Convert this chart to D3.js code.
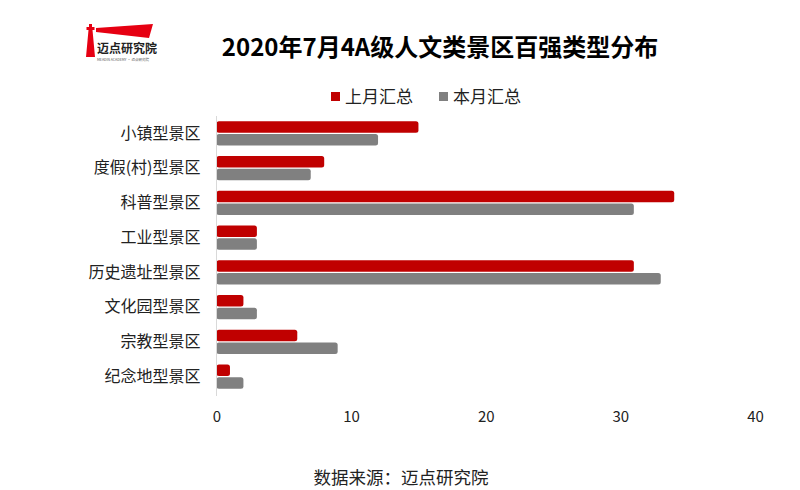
<!DOCTYPE html>
<html><head><meta charset="utf-8">
<script src="https://cdn.jsdelivr.net/npm/d3@7"></script>
<style>body{margin:0;background:#fff}svg{display:block}text{font-family:"Noto Sans CJK SC","Noto Sans",sans-serif}</style>
</head><body>
<script>
const categories = ["小镇型景区","度假(村)型景区","科普型景区","工业型景区","历史遗址型景区","文化园型景区","宗教型景区","纪念地型景区"];
const lastMonth = [15, 8, 34, 3, 31, 2, 6, 1];
const thisMonth = [12, 7, 31, 3, 33, 3, 9, 2];
const seriesNames = ["上月汇总","本月汇总"];
const tickValues = [0, 10, 20, 30, 40];
const colors = ["#C00000", "#808080"];

const W = 800, H = 490;
const svg = d3.select("body").append("svg").attr("width", W).attr("height", H);

const x = d3.scaleLinear().domain([0, 40]).range([216.5, 755]);
const y = d3.scaleBand().domain(categories).range([116, 394]).paddingInner(0.3).paddingOuter(0.15);
const sub = d3.scaleBand().domain([0, 1]).range([0, y.bandwidth()]).paddingInner(0.08);

// title
svg.append("text").attr("x", 440).attr("y", 56).attr("text-anchor", "middle")
  .attr("font-size", 24).attr("font-weight", "bold").attr("fill", "#000")
  .text("2020年7月4A级人文类景区百强类型分布");

// logo
const logo = svg.append("g");
logo.append("path").attr("d", "M86,57 L88.5,30 L86.5,30 L86.5,27 L89,27 L89,24 L92,24 L92,27 L94.5,27 L94.5,30 L92.5,30 L95,57 Z").attr("fill", "#E60012");
logo.append("path").attr("d", "M96,28 L153,24 L149,38 L96,32 Z").attr("fill", "#E60012");
logo.append("text").attr("x", 97).attr("y", 53).attr("font-size", 12).attr("font-weight", "bold").attr("fill", "#222").text("迈点研究院");
logo.append("text").attr("x", 97).attr("y", 61).attr("font-size", 3.5).attr("fill", "#555").text("MEADIN ACADEMY · 迈点研究院");

// legend
const legend = svg.append("g");
const legX = [331, 439];
seriesNames.forEach((n, i) => {
  legend.append("rect").attr("x", legX[i]).attr("y", 92).attr("width", 9).attr("height", 9).attr("fill", colors[i]);
  legend.append("text").attr("x", legX[i] + 14).attr("y", 103).attr("font-size", 17).attr("fill", "#222").text(n);
});

// bars
const data = categories.map((c, i) => ({c, v: [lastMonth[i], thisMonth[i]]}));
const g = svg.append("g");
data.forEach(d => {
  d.v.forEach((v, k) => {
    g.append("rect")
      .attr("x", x(0)).attr("y", y(d.c) + sub(k))
      .attr("width", x(v) - x(0)).attr("height", sub.bandwidth())
      .attr("rx", 2.5).attr("fill", colors[k]);
  });
});

// y axis line
svg.append("line").attr("x1", x(0)).attr("x2", x(0)).attr("y1", 116).attr("y2", 396)
  .attr("stroke", "#d9d9d9").attr("stroke-width", 1);

// category labels
const yAxis = d3.axisLeft(y).tickSize(0).tickPadding(16);
const ya = svg.append("g").attr("transform", `translate(${x(0)},0)`).call(yAxis);
ya.select(".domain").remove();
ya.selectAll("text").attr("font-size", 16).attr("fill", "#222").attr("font-family", '"Noto Sans CJK SC",sans-serif');

// x ticks
const xAxis = d3.axisBottom(x).tickValues(tickValues).tickSize(0).tickPadding(0);
const xa = svg.append("g").attr("transform", "translate(0,411)").call(xAxis);
xa.select(".domain").remove();
xa.selectAll("text").attr("font-size", 15).attr("fill", "#222").attr("font-family", '"Noto Sans CJK SC",sans-serif');

// source
svg.append("text").attr("x", 401).attr("y", 484).attr("text-anchor", "middle")
  .attr("font-size", 17.5).attr("fill", "#222").text("数据来源：迈点研究院");
</script>
</body></html>
